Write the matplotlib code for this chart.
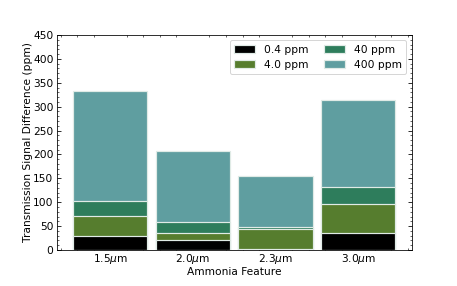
import numpy as np
import matplotlib
matplotlib.use("Agg")
import matplotlib.pyplot as plt

# values (each bar is drawn from zero, bigger ones behind)
features = ["1.5$\\mu$m", "2.0$\\mu$m", "2.3$\\mu$m", "3.0$\\mu$m"]
ppm_labels = ["0.4 ppm", "4.0 ppm", "40 ppm", "400 ppm"]
signal_04 = [30, 21.6, 2.7, 36]
signal_4 = [71.6, 34.8, 44, 95.3]
signal_40 = [101.6, 57.8, 48, 131]
signal_400 = [332, 208, 154, 313]

colors = ["black", "#567d2e", "#2e7d5c", "#5f9ea0"]

plt.rcParams["font.size"] = 10.6

fig = plt.figure(figsize=(457/72, 286/72), dpi=72)
ax = fig.add_axes([57/457, 36/286, 354.5/457, 215/286])

x = np.arange(len(features))
series = [signal_04, signal_4, signal_40, signal_400]
# draw biggest first so smaller concentrations sit in front
for i in [3, 2, 1, 0]:
    ax.bar(x, series[i], width=0.9, color=colors[i], edgecolor="#e0ebe6",
           linewidth=1.2, label=ppm_labels[i], zorder=2 + (3 - i))

ax.set_ylim(0, 450)
ax.set_yticks(np.arange(0, 451, 50))
ax.set_xticks(x)
ax.set_xticklabels(features)
ax.minorticks_on()
ax.tick_params(which="both", direction="in", top=True, right=True)
ax.tick_params(axis="x", which="major", bottom=False, top=False, pad=2)
ax.tick_params(which="major", length=4)
ax.tick_params(which="minor", length=2)

ax.set_xlabel("Ammonia Feature", labelpad=1)
ax.set_ylabel("Transmission Signal Difference (ppm)", labelpad=0)

handles, labels = ax.get_legend_handles_labels()
order = [3, 2, 1, 0]
ax.legend([handles[k] for k in order], [labels[k] for k in order],
          ncol=2, loc="upper right", handlelength=2.0, columnspacing=1.5)

fig.savefig("out.png", dpi=72)
